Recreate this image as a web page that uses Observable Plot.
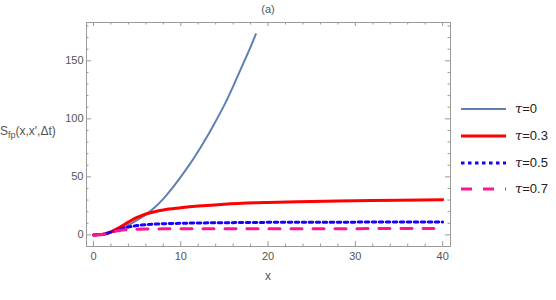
<!DOCTYPE html>
<html><head><meta charset="utf-8">
<script src="https://cdn.jsdelivr.net/npm/d3@7"></script>
<script src="https://cdn.jsdelivr.net/npm/@observablehq/plot@0.6"></script>
<style>
body{margin:0;background:#fff;}
#wrap{position:relative;width:556px;height:300px;font-family:"Liberation Sans",Arial,sans-serif;color:#444;}
.lab{position:absolute;white-space:nowrap;}
</style></head><body><div id="wrap"></div>
<script>
// ---- data ----
const seriesNames = ["τ=0", "τ=0.3", "τ=0.5", "τ=0.7"];
const xTau0 = [0, 1, 2, 3, 4, 5, 6, 7, 8, 9, 10, 11, 12, 13, 14, 15, 16, 17, 18, 18.6];
const yTau0 = [0, 0.4, 2.2, 4.8, 8.5, 12.8, 17.5, 23.5, 31, 40, 50, 60.5, 72, 84.5, 98, 112, 128, 145, 162, 173];
const xTau03 = [0, 1, 2, 3, 4, 5, 6, 7, 8, 10, 12, 15, 20, 25, 30, 35, 40];
const yTau03 = [0, 0.4, 2.5, 6.5, 11, 15, 18, 20, 21.5, 23.3, 24.8, 26.5, 28, 28.8, 29.4, 29.8, 30.2];
const xTau05 = [0, 1, 2, 3, 4, 5, 6, 8, 10, 15, 20, 30, 40];
const yTau05 = [0, 0.4, 2.4, 4.8, 6.8, 8, 8.8, 9.6, 10, 10.5, 10.8, 11, 11.2];
const xTau07 = [0, 1, 2, 3, 4, 5, 6, 8, 10, 20, 30, 40];
const yTau07 = [0, 0.4, 2.3, 3.8, 4.5, 4.8, 5, 5.2, 5.3, 5.4, 5.4, 5.5];
const xTicks = [0, 10, 20, 30, 40];
const xMinor = [2, 4, 6, 8, 12, 14, 16, 18, 22, 24, 26, 28, 32, 34, 36, 38];
const yTicks = [0, 50, 100, 150];
const yMinor = [-10, 10, 20, 30, 40, 60, 70, 80, 90, 110, 120, 130, 140, 160, 170, 180];

// ---- styling ----
const styles = [
  {stroke: "#5E81B5", strokeWidth: 2, dash: null},
  {stroke: "#FF0000", strokeWidth: 3, dash: null},
  {stroke: "#1A00FF", strokeWidth: 3, dash: "3.5,3.5"},
  {stroke: "#FF1493", strokeWidth: 3, dash: "11,11"}
];
const xs = [xTau0, xTau03, xTau05, xTau07];
const ys = [yTau0, yTau03, yTau05, yTau07];
const rows = seriesNames.map((s, i) => xs[i].map((x, j) => ({series: s, x, y: ys[i][j]})));

const W = 556, H = 300, mL = 86, mR = 106, mT = 22, mB = 54;
const fw = W - mL - mR, fh = H - mT - mB;
const tickC = "#9a9a9a";

const lineMarks = rows.map((r, i) => Plot.line(r, {
  x: "x", y: "y", stroke: styles[i].stroke, strokeWidth: styles[i].strokeWidth,
  strokeDasharray: styles[i].dash, curve: "monotone-x"
}));

const chart = Plot.plot({
  width: W, height: H, marginLeft: mL, marginRight: mR, marginTop: mT, marginBottom: mB,
  style: {fontFamily: '"Liberation Sans", Arial, sans-serif', fontSize: "11px", color: "#555", background: "transparent"},
  x: {domain: [-0.8, 40.9]},
  y: {domain: [-10, 183]},
  marks: [
    ...lineMarks,
    Plot.frame({stroke: "#9a9a9a"}),
    Plot.ruleX(xTicks, {stroke: tickC, insetTop: fh - 5}),
    Plot.ruleX(xTicks, {stroke: tickC, insetBottom: fh - 4}),
    Plot.ruleX(xMinor, {stroke: tickC, insetTop: fh - 2.5}),
    Plot.ruleX(xMinor, {stroke: tickC, insetBottom: fh - 2.5}),
    Plot.ruleY(yTicks, {stroke: tickC, insetRight: fw - 5}),
    Plot.ruleY(yTicks, {stroke: tickC, insetLeft: fw - 5}),
    Plot.ruleY(yMinor, {stroke: tickC, insetRight: fw - 2.5}),
    Plot.ruleY(yMinor, {stroke: tickC, insetLeft: fw - 2.5}),
    Plot.axisX({ticks: xTicks, tickSize: 0, tickPadding: 6, label: null}),
    Plot.axisY({ticks: yTicks, tickSize: 0, tickPadding: 3, label: null})
  ]
});
const wrap = document.getElementById("wrap");
chart.style.position = "absolute"; chart.style.left = "0"; chart.style.top = "0";
wrap.appendChild(chart);

function addLabel(html, left, top, size, extra) {
  const d = document.createElement("div");
  d.className = "lab";
  d.innerHTML = html;
  d.style.left = left + "px"; d.style.top = top + "px"; d.style.fontSize = size + "px";
  if (extra) Object.assign(d.style, extra);
  wrap.appendChild(d);
  return d;
}
addLabel("(a)", 268, 3, 11, {transform: "translateX(-50%)", color: "#555"});
addLabel("x", 268, 269, 12, {transform: "translateX(-50%)", color: "#555"});
addLabel('S<sub style="font-size:9px;vertical-align:-3px">fp</sub>(x,x\u2032,\u0394t)', 0, 124, 12, {color: "#555"});

// legend
const legY = [109, 136, 163, 189];
seriesNames.forEach((s, i) => {
  const ns = "http://www.w3.org/2000/svg";
  const svg = document.createElementNS(ns, "svg");
  svg.setAttribute("width", 46); svg.setAttribute("height", 8);
  svg.style.position = "absolute"; svg.style.left = "461px"; svg.style.top = (legY[i] - 4) + "px";
  const ln = document.createElementNS(ns, "line");
  ln.setAttribute("x1", 0); ln.setAttribute("x2", 45); ln.setAttribute("y1", 4); ln.setAttribute("y2", 4);
  ln.setAttribute("stroke", styles[i].stroke); ln.setAttribute("stroke-width", styles[i].strokeWidth);
  if (styles[i].dash) ln.setAttribute("stroke-dasharray", styles[i].dash);
  svg.appendChild(ln);
  wrap.appendChild(svg);
  const html = s.replace("τ", '<i style="font-family:\'DejaVu Serif\',serif">τ</i>');
  addLabel(html, 515, legY[i] - 8, 13, {color: "#222"});
});
</script>
</body></html>
